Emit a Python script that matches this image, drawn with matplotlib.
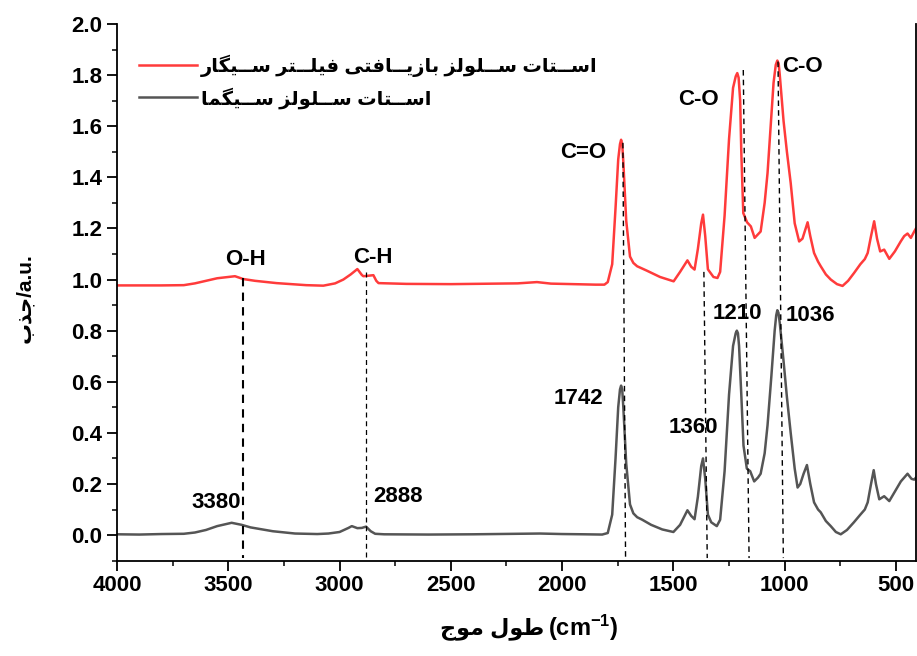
import matplotlib
matplotlib.use('Agg')
import matplotlib.pyplot as plt
from matplotlib.ticker import MultipleLocator

plt.rcParams['font.family'] = ['Liberation Sans', 'DejaVu Sans']
plt.rcParams['font.weight'] = 'bold'
plt.rcParams['mathtext.fontset'] = 'custom'
plt.rcParams['mathtext.rm'] = 'Liberation Sans:bold'
plt.rcParams['mathtext.default'] = 'rm'

# Spectra (wavenumber cm-1, absorbance a.u.)
wn_sigma = [4000, 3900, 3800, 3700, 3650, 3600, 3550, 3485, 3440, 3400, 3300, 3200,
            3100, 3050, 3000, 2960, 2945, 2920, 2900, 2881, 2860, 2840, 2800, 2600,
            2400, 2200, 2100, 2000, 1900, 1820, 1795, 1775, 1760, 1748, 1740, 1735, 1730, 1725,
            1712, 1695, 1680, 1663, 1640, 1600, 1550, 1500, 1470, 1437, 1420, 1405,
            1390, 1375, 1367, 1357, 1345, 1330, 1305, 1290, 1270, 1250, 1232, 1220, 1215, 1210,
            1205, 1195, 1185, 1170, 1155, 1137, 1120, 1108, 1090, 1077, 1060, 1045,
            1038, 1033, 1028, 1022, 1005, 990, 973, 955, 942, 930, 915, 900, 885, 868, 850, 838,
            815, 793, 770, 748, 720, 689, 660, 640, 627, 612, 600, 590, 575, 553, 530,
            505, 478, 448, 430, 418, 410]
ab_sigma = [0.003, 0.002, 0.004, 0.005, 0.010, 0.020, 0.035, 0.048, 0.040, 0.030, 0.015, 0.006,
            0.004, 0.006, 0.012, 0.028, 0.035, 0.027, 0.028, 0.033, 0.015, 0.005, 0.003, 0.002,
            0.003, 0.005, 0.006, 0.004, 0.003, 0.002, 0.008, 0.080, 0.300, 0.500, 0.570, 0.585, 0.570, 0.500,
            0.280, 0.120, 0.085, 0.070, 0.060, 0.040, 0.022, 0.012, 0.040, 0.097, 0.075, 0.062,
            0.150, 0.270, 0.300, 0.220, 0.080, 0.050, 0.035, 0.060, 0.250, 0.550, 0.740, 0.790, 0.800, 0.790,
            0.740, 0.550, 0.350, 0.260, 0.250, 0.210, 0.225, 0.240, 0.320, 0.430, 0.620, 0.800,
            0.860, 0.880, 0.870, 0.830, 0.680, 0.540, 0.400, 0.260, 0.186, 0.200, 0.240, 0.274, 0.200, 0.128,
            0.100, 0.089, 0.055, 0.035, 0.012, 0.003, 0.020, 0.050, 0.080, 0.100, 0.128, 0.200, 0.254, 0.200,
            0.140, 0.152, 0.133, 0.170, 0.210, 0.240, 0.220, 0.217, 0.225]

wn_filter = [4000, 3900, 3800, 3700, 3650, 3600, 3550, 3470, 3433, 3380, 3283, 3150,
             3073, 3020, 2983, 2950, 2920, 2900, 2893, 2870, 2848, 2835, 2825, 2700,
             2500, 2300, 2200, 2113, 2050, 1950, 1850, 1810, 1795, 1775, 1760, 1748, 1740,
             1735, 1730, 1725, 1712, 1695, 1680, 1663, 1620, 1560, 1499, 1470, 1437, 1420,
             1405, 1390, 1375, 1367, 1357, 1345, 1320, 1302, 1290, 1270, 1250, 1232, 1220,
             1213, 1207, 1200, 1195, 1186, 1169, 1152, 1135, 1108, 1090, 1077, 1050, 1040, 1033,
             1027, 1022, 1005, 990, 973, 955, 935, 920, 897, 885, 868, 850, 838, 815, 793,
             765, 740, 715, 688, 660, 640, 627, 612, 598, 585, 571, 553, 530, 505, 478,
             463, 448, 433, 418, 410]
ab_filter = [0.977, 0.977, 0.977, 0.978, 0.985, 0.995, 1.005, 1.013, 1.002, 0.995, 0.986, 0.978,
             0.976, 0.985, 1.000, 1.020, 1.041, 1.018, 1.013, 1.015, 1.017, 0.995, 0.986, 0.983,
             0.982, 0.984, 0.985, 0.990, 0.984, 0.982, 0.980, 0.980, 0.990, 1.060, 1.280, 1.470, 1.530,
             1.547, 1.530, 1.460, 1.230, 1.090, 1.065, 1.052, 1.035, 1.010, 0.993, 1.030, 1.075, 1.050,
             1.039, 1.120, 1.220, 1.254, 1.170, 1.040, 1.010, 1.006, 1.030, 1.250, 1.550, 1.750, 1.795,
             1.808, 1.790, 1.700, 1.500, 1.260, 1.224, 1.208, 1.163, 1.188, 1.300, 1.417, 1.770, 1.840, 1.857,
             1.845, 1.800, 1.620, 1.500, 1.378, 1.220, 1.149, 1.160, 1.224, 1.170, 1.104, 1.070, 1.052, 1.020, 1.000,
             0.982, 0.975, 0.995, 1.026, 1.060, 1.080, 1.104, 1.170, 1.228, 1.160, 1.110, 1.117, 1.081, 1.110, 1.150,
             1.170, 1.180, 1.163, 1.188, 1.200]

# band labels and peak positions
bond_labels = ['O-H', 'C-H', 'C=O', 'C-O', 'C-O']
peak_labels = ['3380', '2888', '1742', '1360', '1210', '1036']
label_filter = 'اســتات ســلولز بازیــافتی فیلــتر ســیگار'
label_sigma = 'اســتات ســلولز ســیگما'

# Persian letters -> presentation forms (isolated, final, initial, medial)
FORMS = {
    'ا': (0xFE8D, 0xFE8E, None, None),
    'ب': (0xFE8F, 0xFE90, 0xFE91, 0xFE92),
    'ت': (0xFE95, 0xFE96, 0xFE97, 0xFE98),
    'ج': (0xFE9D, 0xFE9E, 0xFE9F, 0xFEA0),
    'ذ': (0xFEAB, 0xFEAC, None, None),
    'ر': (0xFEAD, 0xFEAE, None, None),
    'ز': (0xFEAF, 0xFEB0, None, None),
    'س': (0xFEB1, 0xFEB2, 0xFEB3, 0xFEB4),
    'ط': (0xFEC1, 0xFEC2, 0xFEC3, 0xFEC4),
    'ف': (0xFED1, 0xFED2, 0xFED3, 0xFED4),
    'ل': (0xFEDD, 0xFEDE, 0xFEDF, 0xFEE0),
    'م': (0xFEE1, 0xFEE2, 0xFEE3, 0xFEE4),
    'و': (0xFEED, 0xFEEE, None, None),
    'ی': (0xFBFC, 0xFBFD, 0xFBFE, 0xFBFF),
    'گ': (0xFB92, 0xFB93, 0xFB94, 0xFB95),
    'ـ': (0x0640, 0x0640, 0x0640, 0x0640),
}


def shape(text):
    # matplotlib has no Arabic shaping/bidi: pick joined forms and lay them out right-to-left
    words = []
    for word in text.split(' '):
        glyphs = []
        for i, ch in enumerate(word):
            iso, fin, ini, med = FORMS[ch]
            prev_joins = i > 0 and FORMS[word[i - 1]][2] is not None
            next_joins = i < len(word) - 1 and ini is not None
            if prev_joins and next_joins:
                g = med
            elif prev_joins:
                g = fin
            elif next_joins:
                g = ini
            else:
                g = iso
            glyphs.append(chr(g))
        words.append(''.join(reversed(glyphs)))
    return ' '.join(reversed(words))


fig = plt.figure(figsize=(9.17, 6.56), dpi=100)
ax = fig.add_axes([0.1276, 0.1454, 0.8713, 0.818])

ax.plot(wn_filter, ab_filter, color='#ff3b3b', lw=1.8, label=shape(label_filter))
ax.plot(wn_sigma, ab_sigma, color='#555555', lw=1.8, label=shape(label_sigma))

# dashed guide lines: (top wn, bottom wn, top absorbance, width)
guides = [(3436, 3436, 1.005, 1.5), (2881, 2881, 1.03, 0.9), (1727, 1715, 1.535, 1.0),
          (1363, 1348, 1.03, 1.0), (1186, 1160, 1.82, 1.0), (1030, 1006, 1.853, 1.0)]
for wt, wb, top, lw in guides:
    ax.plot([wt, wb], [top, -0.09], ls=(0, (4, 3)), color='black', lw=lw)

bond_pos = [(3423, 1.078), (2849, 1.086), (1904, 1.496), (1387, 1.706), (920, 1.833)]
for txt, (x, y) in zip(bond_labels, bond_pos):
    ax.text(x, y, txt, ha='center', va='center', fontsize=16, fontweight='bold')
peak_pos = [(3553, 0.127), (2736, 0.15), (1927, 0.534), (1410, 0.42), (1213, 0.869), (883, 0.859)]
for txt, (x, y) in zip(peak_labels, peak_pos):
    ax.text(x, y, txt, ha='center', va='center', fontsize=16, fontweight='bold')

ax.set_xlim(4000, 410)
ax.set_ylim(-0.1, 2.0)
ax.xaxis.set_major_locator(MultipleLocator(500))
ax.xaxis.set_minor_locator(MultipleLocator(250))
ax.yaxis.set_major_locator(MultipleLocator(0.2))
ax.yaxis.set_minor_locator(MultipleLocator(0.1))
ax.tick_params(which='major', direction='out', length=7, width=1.3, labelsize=16)
ax.tick_params(which='minor', direction='out', length=3.5, width=1.1)
for s in ax.spines.values():
    s.set_linewidth(1.3)
ax.spines['top'].set_visible(False)

# x label: Persian part and unit part side by side
ax.text(0.535, -0.126, shape('طول موج'), transform=ax.transAxes, ha='right', va='center',
        fontsize=16, fontweight='bold')
ax.text(0.539, -0.126, '(cm$^{-1}$)', transform=ax.transAxes, ha='left', va='center',
        fontsize=17, fontweight='bold')

ax.set_ylabel(shape('جذب') + '/a.u.', fontsize=15, fontweight='bold')
ax.yaxis.set_label_coords(-0.104, 0.49)

ax.legend(loc='upper left', bbox_to_anchor=(0.005, 0.975), frameon=False, fontsize=14,
          handlelength=3.0, handletextpad=0.2, labelspacing=0.5)

fig.savefig('out.png', dpi=100)
